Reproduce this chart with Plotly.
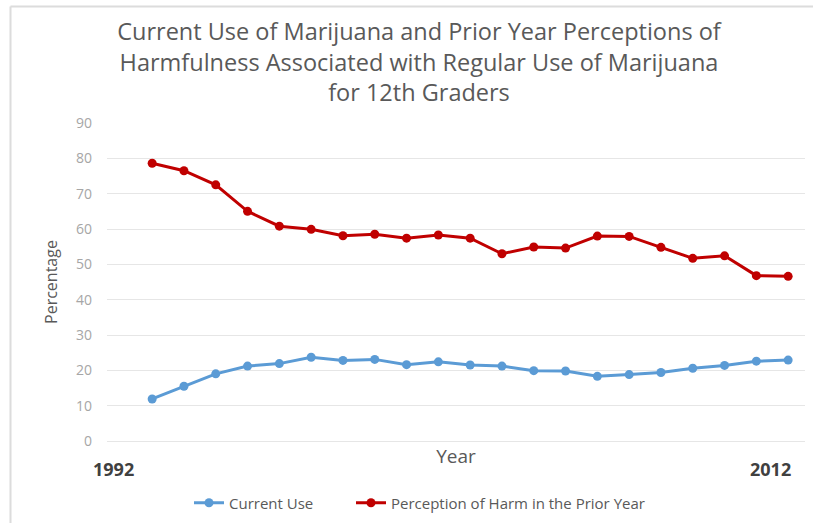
import plotly.graph_objects as go

years = list(range(1992, 2013))
current_use = [11.9, 15.5, 19.0, 21.2, 21.9, 23.7, 22.8, 23.1, 21.6, 22.4, 21.5,
               21.2, 19.9, 19.8, 18.3, 18.8, 19.4, 20.6, 21.4, 22.6, 22.9]
perception_harm = [78.6, 76.5, 72.5, 65.0, 60.8, 59.9, 58.1, 58.5, 57.4, 58.3, 57.4,
                   53.0, 54.9, 54.6, 58.0, 57.9, 54.8, 51.7, 52.4, 46.8, 46.6]
series_names = ["Current Use", "Perception of Harm in the Prior Year"]
y_ticks = [0, 10, 20, 30, 40, 50, 60, 70, 80, 90]
end_labels = ["1992", "2012"]

W, H = 813, 523
L, R, T, B = 107, 8, 123, 82
pw, ph = W - L - R, H - T - B

def px_x(p):
    return (p - L) / pw

def px_y(p):
    return (H - B - p) / ph

FONT = "'Open Sans', sans-serif"

fig = go.Figure()
fig.add_trace(go.Scatter(
    x=years, y=current_use, name=series_names[0], mode="lines+markers",
    line=dict(color="#5B9BD5", width=3), marker=dict(size=9, color="#5B9BD5"),
    legend="legend"))
fig.add_trace(go.Scatter(
    x=years, y=perception_harm, name=series_names[1], mode="lines+markers",
    line=dict(color="#C00000", width=3), marker=dict(size=9, color="#C00000"),
    legend="legend2"))

legend_font = dict(size=15, color="#595959", family=FONT)

fig.update_layout(
    width=W, height=H,
    margin=dict(l=L, r=R, t=T, b=B, autoexpand=False),
    paper_bgcolor="white", plot_bgcolor="white",
    font=dict(family=FONT, color="#595959"),
    title=dict(
        text="Current Use of Marijuana and Prior Year Perceptions of<br>"
             "Harmfulness Associated with Regular Use of Marijuana<br>for 12th Graders",
        x=px_x(419), xanchor="center", xref="paper", y=1 - 40 / H, yanchor="top",
        font=dict(size=23.5, color="#595959", family=FONT)),
    xaxis=dict(range=[1990.58, 2012.53], showticklabels=False, showgrid=False,
               zeroline=False, showline=False, ticks="", automargin=False,
               title=dict(text="Year", font=dict(size=19, color="#595959"), standoff=8)),
    yaxis=dict(range=[0, 90], tickvals=y_ticks, showgrid=True, gridcolor="#e6e6e6",
               gridwidth=1, zeroline=True, zerolinecolor="#e6e6e6", zerolinewidth=1,
               showline=False, ticks="", ticklabelstandoff=14, automargin=False,
               tickfont=dict(size=14, color="#a6a6a6"),
               title=dict(text="Percentage", font=dict(size=16, color="#595959"), standoff=14)),
    legend=dict(orientation="h", x=px_x(189), xanchor="left", y=px_y(503), yanchor="middle",
                font=legend_font),
    legend2=dict(orientation="h", x=px_x(351), xanchor="left", y=px_y(503), yanchor="middle",
                 font=legend_font),
    showlegend=True,
)

fig.add_annotation(text="<b>" + end_labels[0] + "</b>", xref="paper", yref="paper",
                   x=px_x(113), y=px_y(469), xanchor="center", yanchor="middle", showarrow=False,
                   font=dict(size=18, color="#404040", family=FONT))
fig.add_annotation(text="<b>" + end_labels[1] + "</b>", xref="paper", yref="paper",
                   x=px_x(770), y=px_y(469), xanchor="center", yanchor="middle", showarrow=False,
                   font=dict(size=18, color="#404040", family=FONT))

fig.add_shape(type="line", xref="paper", yref="paper",
              x0=px_x(10.5), x1=px_x(10.5), y0=px_y(6.5), y1=px_y(H),
              line=dict(color="#dcdcdc", width=2))
fig.add_shape(type="line", xref="paper", yref="paper",
              x0=px_x(10.5), x1=px_x(W), y0=px_y(6.5), y1=px_y(6.5),
              line=dict(color="#dcdcdc", width=2))

fig.write_html("out.html", config={"displayModeBar": False},
               post_script="document.body.style.margin='0';")
